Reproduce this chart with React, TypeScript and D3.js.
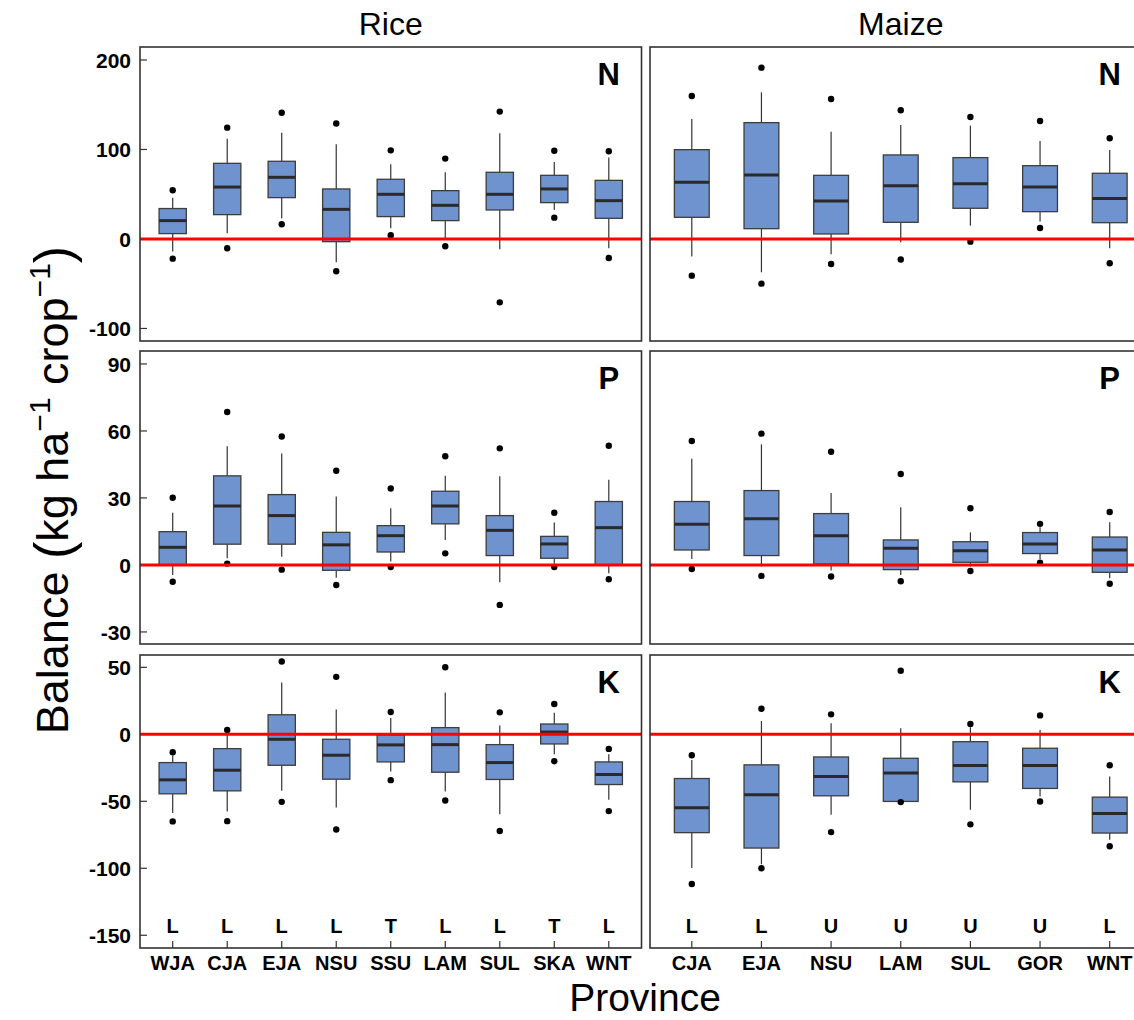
import React from 'react';
import * as d3 from 'd3';

// provinces per crop
const riceProvinces = ['WJA', 'CJA', 'EJA', 'NSU', 'SSU', 'LAM', 'SUL', 'SKA', 'WNT'];
const maizeProvinces = ['CJA', 'EJA', 'NSU', 'LAM', 'SUL', 'GOR', 'WNT'];

// soil texture letters under the K panels
const riceTexture = ['L', 'L', 'L', 'L', 'T', 'L', 'L', 'T', 'L'];
const maizeTexture = ['L', 'L', 'U', 'U', 'U', 'U', 'L'];

// each box: [low dot, low whisker, q1, median, q3, high whisker, high dot]
const riceN = [
  [-22, -14, 6, 20.5, 34, 46, 54.4],
  [-10.4, 6.3, 27.2, 58, 84.5, 112, 124.4],
  [16.4, 23, 46.2, 68.9, 86.8, 118.8, 141],
  [-36.1, -26, -3, 33.1, 55.9, 105.8, 129],
  [4.1, 12, 25, 49.9, 66.7, 83.4, 99],
  [-8.2, 0.7, 20.5, 37.6, 54, 74.5, 89.8],
  [-70.8, -11.5, 32.4, 49.9, 74.5, 118, 142.3],
  [23.8, 32.4, 40.6, 55.9, 71.1, 86, 98.6],
  [-21.2, -10.4, 23.1, 42.8, 65.5, 90.9, 98],
];
const maizeN = [
  [-41, -19.7, 24.2, 63.3, 99.8, 134, 159.8],
  [-49.9, -37.2, 11.5, 71.5, 130, 163.9, 191.4],
  [-27.9, -17.1, 5.6, 42.5, 71.1, 119.9, 156.4],
  [-23, -3.7, 18.6, 59.6, 93.9, 127.4, 143.8],
  [-3, 14.9, 34.3, 61.8, 90.9, 126.6, 136.3],
  [12.3, 19.4, 30.5, 58.1, 81.9, 109.5, 131.8],
  [-27.2, -10.4, 18.2, 45.1, 73.4, 99.4, 112.5],
];
const riceP = [
  [-7.5, -4.5, 0, 7.9, 14.9, 23.4, 30.1],
  [0.6, 3, 9.3, 26.4, 39.9, 53.1, 68.5],
  [-2.1, 3.7, 9.3, 22.1, 31.5, 49.9, 57.5],
  [-9, -5.7, -2.4, 9, 14.6, 30.7, 42.2],
  [-0.9, 1.5, 5.8, 13.1, 17.6, 25.4, 34.2],
  [5.2, 11.2, 18.4, 26.4, 33, 39.9, 48.7],
  [-17.9, -7.8, 4.2, 15.5, 22.1, 39.7, 52.2],
  [-0.9, 0.7, 3, 9.4, 12.8, 19, 23.4],
  [-6.4, -3.7, 0, 16.7, 28.4, 38.1, 53.4],
];
const maizeP = [
  [-1.8, 2.7, 6.7, 18.2, 28.4, 47.5, 55.5],
  [-4.9, -0.7, 4.2, 20.7, 33.3, 54, 58.8],
  [-5.2, -2.5, 0.4, 13.1, 23, 32.2, 50.7],
  [-7.3, -4.5, -2.1, 7.5, 11.2, 25.8, 40.7],
  [-2.7, -0.7, 1.2, 6.4, 10.4, 14.6, 25.4],
  [1, 2.7, 5.1, 9.4, 14.5, 16.9, 18.4],
  [-8.4, -6, -3.3, 6.7, 12.5, 19.1, 23.7],
];
const riceK = [
  [-65, -58.8, -44.4, -34, -21.1, -15.9, -13.4],
  [-64.8, -57.6, -42.2, -26.8, -10.7, -0.5, 3.2],
  [-50.4, -42.2, -23.1, -3.7, 14.6, 38.7, 54.3],
  [-71, -54.6, -33.5, -15.6, -3.7, 18.6, 42.9],
  [-34.2, -27.8, -20.6, -7.9, -0.5, 12.2, 16.6],
  [-49.4, -42.7, -28.3, -7.7, 5, 31.3, 50.1],
  [-72.2, -59.6, -33.7, -21.1, -7.7, 6.5, 16.4],
  [-20.1, -14.9, -7.2, 1.7, 7.7, 16.1, 22.6],
  [-57.3, -48.9, -37.5, -30, -20.6, -14.9, -10.9],
];
const maizeK = [
  [-111.7, -99.8, -73.4, -54.8, -33, -19.1, -15.6],
  [-100, -97, -84.9, -45.2, -22.8, 9.9, 19.1],
  [-73, -60, -45.9, -31.5, -16.9, 8.2, 14.9],
  [-50.6, -50.6, -50.1, -28.8, -17.9, 4.5, 47.4],
  [-67.2, -56.3, -35.5, -23.3, -5.5, 5.2, 7.7],
  [-50.1, -46.4, -40.4, -23.3, -10.4, 3.2, 14.1],
  [-83.6, -78.7, -73.7, -59.1, -46.9, -31.5, -23.1],
];

const nTicks = [-100, 0, 100, 200];
const pTicks = [-30, 0, 30, 60, 90];
const kTicks = [-150, -100, -50, 0, 50];

const FONT = '"Liberation Sans", Arial, sans-serif';
const BOX_FILL = '#6f93cf';
const DARK = '#333333';

const rows = [
  { label: 'N', rice: riceN, maize: maizeN, ticks: nTicks, domain: [-114, 214.5], top: 47, bottom: 341 },
  { label: 'P', rice: riceP, maize: maizeP, ticks: pTicks, domain: [-35.4, 95.8], top: 351, bottom: 644 },
  { label: 'K', rice: riceK, maize: maizeK, ticks: kTicks, domain: [-159.5, 59.2], top: 655, bottom: 948 },
];

const cols = [
  { name: 'Rice', provinces: riceProvinces, texture: riceTexture, key: 'rice', left: 140, right: 641.5 },
  { name: 'Maize', provinces: maizeProvinces, texture: maizeTexture, key: 'maize', left: 650, right: 1151.5 },
];

const Panel = ({ row, col, ri, ci }) => {
  const x = d3.scalePoint().domain(col.provinces).range([col.left, col.right]).padding(0.6);
  const y = d3.scaleLinear().domain(row.domain).range([row.bottom, row.top]);
  const bw = x.step() * 0.5;
  const data = row[col.key];
  const isBottom = ri === rows.length - 1;
  const lastX = x(col.provinces[col.provinces.length - 1]);
  return (
    <g>
      {/* y ticks only on left column */}
      {ci === 0 && row.ticks.map(t => (
        <g key={t}>
          <line x1={col.left} x2={col.left + 7} y1={y(t)} y2={y(t)} stroke={DARK} strokeWidth={1.2} />
          <text x={col.left - 9} y={y(t)} dy="0.36em" textAnchor="end" fontSize={21} fontWeight="bold" fontFamily={FONT}>{t}</text>
        </g>
      ))}
      {data.map((d, i) => {
        const cx = x(col.provinces[i]);
        return (
          <g key={i}>
            <line x1={cx} x2={cx} y1={y(d[5])} y2={y(d[4])} stroke={DARK} strokeWidth={1.2} />
            <line x1={cx} x2={cx} y1={y(d[2])} y2={y(d[1])} stroke={DARK} strokeWidth={1.2} />
            <rect x={cx - bw / 2} width={bw} y={y(d[4])} height={y(d[2]) - y(d[4])} fill={BOX_FILL} stroke="#3d3d3d" strokeWidth={1.3} />
            <line x1={cx - bw / 2} x2={cx + bw / 2} y1={y(d[3])} y2={y(d[3])} stroke="#2a2a2a" strokeWidth={3} />
            <circle cx={cx} cy={y(d[0])} r={3.2} fill="#000" />
            <circle cx={cx} cy={y(d[6])} r={3.2} fill="#000" />
          </g>
        );
      })}
      <line x1={col.left} x2={col.right} y1={y(0)} y2={y(0)} stroke="#ff0000" strokeWidth={3} />
      <text x={lastX} y={row.top + 38} textAnchor="middle" fontSize={31} fontWeight="bold" fontFamily={FONT}>{row.label}</text>
      {isBottom && col.provinces.map((p, i) => (
        <g key={p}>
          <line x1={x(p)} x2={x(p)} y1={row.bottom} y2={row.bottom - 7} stroke={DARK} strokeWidth={1.2} />
          <text x={x(p)} y={row.bottom - 15} textAnchor="middle" fontSize={20} fontWeight="bold" fontFamily={FONT}>{col.texture[i]}</text>
          <text x={x(p)} y={row.bottom + 22} textAnchor="middle" fontSize={20} fontWeight="bold" fontFamily={FONT}>{p}</text>
        </g>
      ))}
      <rect x={col.left} y={row.top} width={col.right - col.left} height={row.bottom - row.top} fill="none" stroke={DARK} strokeWidth={1.6} />
    </g>
  );
};

export default function App() {
  return (
    <svg width={1134} height={1020} style={{ display: 'block', position: 'fixed', top: 0, left: 0, background: '#fff' }}>
      <rect width={1134} height={1020} fill="#fff" />
      {cols.map(c => (
        <text key={c.name} x={(c.left + c.right) / 2} y={35} textAnchor="middle" fontSize={32} fontFamily={FONT}>{c.name}</text>
      ))}
      {rows.map((r, ri) => cols.map((c, ci) => (
        <Panel key={r.label + c.key} row={r} col={c} ri={ri} ci={ci} />
      )))}
      <text transform="translate(68,490) rotate(-90)" textAnchor="middle" fontSize={45} fontFamily={FONT}>
        Balance <tspan fontSize={52} dy={3}>(</tspan><tspan dy={-3}>kg ha</tspan>
        <tspan fontSize={30} dy={-18}>−1</tspan>
        <tspan dy={18}> crop</tspan>
        <tspan fontSize={30} dy={-18}>−1</tspan>
        <tspan fontSize={52} dy={21}>)</tspan>
      </text>
      <text x={645} y={1011} textAnchor="middle" fontSize={39} fontFamily={FONT}>Province</text>
    </svg>
  );
}
